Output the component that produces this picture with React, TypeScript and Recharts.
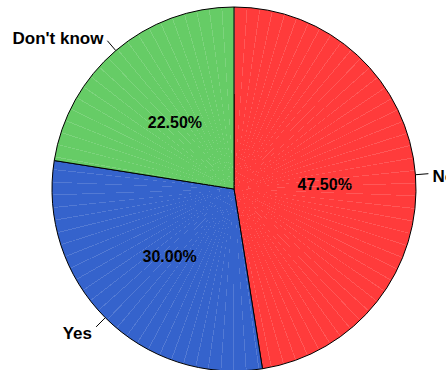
import React from 'react';
import { PieChart, Pie, Cell } from 'recharts';

const categories = ['No', 'Yes', "Don't know"];
const shares = [47.5, 30.0, 22.5];
const colors = ['#ff3b3b', '#3563cc', '#66cc66'];

const data = categories.map((name, i) => ({ name, value: shares[i] }));

const RAD = Math.PI / 180;
const CX = 234;
const CY = 189;
const R = 182;

const renderLabel = (props: any) => {
  const { cx, cy, midAngle, outerRadius, name, value, index } = props;
  const cos = Math.cos(-midAngle * RAD);
  const sin = Math.sin(-midAngle * RAD);
  const inR = outerRadius * 0.5;
  const ix = cx + inR * cos;
  const iy = cy + inR * sin + 3;
  const x1 = cx + outerRadius * cos;
  const y1 = cy + outerRadius * sin;
  const x2 = cx + (outerRadius + 13) * cos;
  const y2 = cy + (outerRadius + 13) * sin;
  const lx = cx + (outerRadius + 16) * cos;
  const ly = cy + (outerRadius + 16) * sin;
  const right = cos >= 0;
  return (
    <g key={`lbl-${index}`}>
      <text x={ix} y={iy} textAnchor="middle" dominantBaseline="central" fill="#000" fontSize={16} fontWeight="bold">
        {value.toFixed(2)}%
      </text>
      <line x1={x1} y1={y1} x2={x2} y2={y2} stroke="#000" strokeWidth={1} />
      <text x={right ? lx + 1 : lx - 2} y={ly + (sin > 0 ? 4 : sin < -0.5 ? 0 : 3)} textAnchor={right ? 'start' : 'end'} dominantBaseline="central" fill="#000" fontSize={17} fontWeight="bold">
        {name}
      </text>
    </g>
  );
};

export default function App() {
  return (
    <div style={{ position: 'absolute', left: 0, top: 0, width: 446, height: 370, background: '#fff', overflow: 'hidden', fontFamily: '"Liberation Sans", Arial, sans-serif' }}>
      <PieChart width={446} height={370} margin={{ top: 0, right: 0, bottom: 0, left: 0 }}>
        <Pie
          data={data}
          dataKey="value"
          nameKey="name"
          cx={CX}
          cy={CY}
          outerRadius={R}
          startAngle={90}
          endAngle={-270}
          stroke="#000"
          strokeWidth={1}
          label={renderLabel}
          labelLine={false}
          isAnimationActive={false}
        >
          {data.map((d, i) => (
            <Cell key={d.name} fill={colors[i]} />
          ))}
        </Pie>
      </PieChart>
      <div
        style={{
          position: 'absolute',
          left: CX - R + 1,
          top: CY - R + 1,
          width: 2 * R - 2,
          height: 2 * R - 2,
          borderRadius: '50%',
          pointerEvents: 'none',
          background: 'repeating-conic-gradient(from 0deg, rgba(255,255,255,0.15) 0deg 0.3deg, rgba(255,255,255,0) 0.3deg 4deg)',
        }}
      />
    </div>
  );
}
